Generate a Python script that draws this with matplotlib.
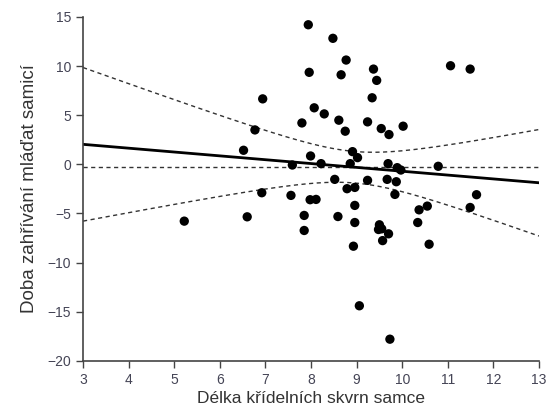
import numpy as np
import matplotlib.pyplot as plt

# délka křídelních skvrn samce (x) a doba zahřívání mláďat samicí (y)
wing_patch = [5.22, 6.52, 6.60, 6.77, 6.92, 6.94, 7.56, 7.59, 7.80, 7.85,
              7.85, 7.94, 7.96, 7.99, 7.98, 8.07, 8.11, 8.22, 8.29, 8.48,
              8.52, 8.59, 8.61, 8.66, 8.75, 8.77, 8.79, 8.86, 8.91, 8.93,
              8.96, 8.96, 8.96, 9.02, 9.06, 9.24, 9.24, 9.34, 9.37, 9.44,
              9.50, 9.55, 9.48, 9.54, 9.57, 9.67, 9.69, 9.70, 9.71, 9.73,
              9.84, 9.87, 9.89, 9.97, 10.02, 10.34, 10.37, 10.55, 10.59, 10.79,
              11.06, 11.49, 11.49, 11.63]
incubation = [-5.78, 1.43, -5.34, 3.50, -2.89, 6.66, -3.16, -0.07, 4.21, -5.20,
              -6.73, 14.20, 9.36, 0.85, -3.60, 5.75, -3.57, 0.07, 5.13, 12.82,
              -1.53, -5.31, 4.49, 9.11, 3.37, 10.61, -2.48, 0.07, 1.29, -8.33,
              -2.35, -4.18, -5.92, 0.68, -14.39, 4.32, -1.63, 6.77, 9.69, 8.54,
              -6.15, -6.56, -6.63, 3.64, -7.76, -1.53, 0.07, -7.07, 3.03, -17.79,
              -3.06, -1.77, -0.34, -0.58, 3.88, -5.92, -4.63, -4.25, -8.13, -0.20,
              10.03, 9.69, -4.39, -3.09]

x_ticks = [3, 4, 5, 6, 7, 8, 9, 10, 11, 12, 13]
y_ticks = [15, 10, 5, 0, -5, -10, -15, -20]

x = np.array(wing_patch)
y = np.array(incubation)

# lineární regrese + 95% interval spolehlivosti pro střední hodnotu
n = len(x)
b, a = np.polyfit(x, y, 1)
resid = y - (a + b * x)
s = np.sqrt(np.sum(resid ** 2) / (n - 2))
sxx = np.sum((x - x.mean()) ** 2)
t = 1.999  # t(0.975, 62)

xs = np.linspace(3, 13, 200)
fit = a + b * xs
half = t * s * np.sqrt(1.0 / n + (xs - x.mean()) ** 2 / sxx)

plt.rcParams['font.family'] = ['Liberation Sans', 'DejaVu Sans']

fig = plt.figure(figsize=(5.5, 4.12), dpi=100)
ax = fig.add_axes([0.151, 0.124, 0.829, 0.835])

ax.axhline(y.mean(), color='#333333', lw=1, ls=(0, (3, 2.5)), zorder=1)
ax.plot(xs, fit + half, color='#333333', lw=1, ls=(0, (3, 2.5)), zorder=1)
ax.plot(xs, fit - half, color='#333333', lw=1, ls=(0, (3, 2.5)), zorder=1)
ax.plot(xs, fit, color='black', lw=2, zorder=2)
ax.scatter(x, y, s=45, color='black', edgecolors='none', zorder=3)

ax.set_xlim(3, 13)
ax.set_ylim(-20, 15)
ax.set_xticks(x_ticks)
ax.set_yticks(y_ticks)

for side in ['top', 'right']:
    ax.spines[side].set_visible(False)
for side in ['left', 'bottom']:
    ax.spines[side].set_color('#444444')
    ax.spines[side].set_linewidth(1.2)

ax.tick_params(direction='out', length=5, width=1, color='#444444',
               labelsize=10, labelcolor='#444455')
ax.set_xlabel('Délka křídelních skvrn samce', fontsize=12.5, color='#333333', labelpad=3)
ax.set_ylabel('Doba zahřívání mláďat samicí', fontsize=13.5, color='#333333', labelpad=7)

fig.savefig('out.png', dpi=100)
